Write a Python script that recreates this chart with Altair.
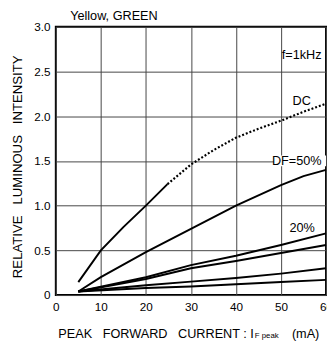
import altair as alt
import pandas as pd

FONT = "Liberation Sans"

# ---- data ----
dc_solid_x = [5, 10, 15, 20, 24.8]
dc_solid_y = [0.145, 0.5, 0.76, 1.0, 1.24]
dc_dot_x = [24.8, 30, 35, 40, 45, 50, 55, 60]
dc_dot_y = [1.24, 1.46, 1.62, 1.76, 1.86, 1.95, 2.05, 2.14]
df50_x = [5, 10, 20, 30, 40, 50, 55, 60]
df50_y = [0.04, 0.2, 0.48, 0.74, 1.0, 1.23, 1.33, 1.40]
low_x = [5, 20, 30, 40, 50, 60]
df20_y = [0.04, 0.2, 0.335, 0.44, 0.56, 0.69]
df10_y = [0.04, 0.18, 0.30, 0.38, 0.47, 0.56]
df5_y = [0.04, 0.11, 0.15, 0.19, 0.24, 0.30]
df1_y = [0.04, 0.08, 0.095, 0.12, 0.145, 0.17]

x_ticks = [0, 10, 20, 30, 40, 50, 60]
y_ticks = [0, 0.5, 1.0, 1.5, 2.0, 2.5, 3.0]

label_text = ["f=1kHz", "DC", "20%"]
label_x = [54.6, 54.6, 54.7]
label_y = [2.68, 2.17, 0.754]

df50_label = ["DF=50%"]
df50_label_x = [53.5]
df50_label_y = [1.5]
df50_box_x = [48.4]
df50_box_x2 = [60]
df50_box_y = [1.44]
df50_box_y2 = [1.56]

# ---- tables ----
rows = []
for name, xs_, ys_ in [
    ("DC", dc_solid_x, dc_solid_y),
    ("DF=50%", df50_x, df50_y),
    ("DF=20%", low_x, df20_y),
    ("DF=10%", low_x, df10_y),
    ("DF=5%", low_x, df5_y),
    ("DF=1%", low_x, df1_y),
]:
    for i, (xv, yv) in enumerate(zip(xs_, ys_)):
        rows.append({"series": name, "x": xv, "y": yv, "o": i})
solid = pd.DataFrame(rows)
dotted = pd.DataFrame({"x": dc_dot_x, "y": dc_dot_y, "o": list(range(len(dc_dot_x)))})
labels = pd.DataFrame({"t": label_text, "x": label_x, "y": label_y})
lab50 = pd.DataFrame({"t": df50_label, "x": df50_label_x, "y": df50_label_y})
box50 = pd.DataFrame({"x": df50_box_x, "x2": df50_box_x2, "y": df50_box_y, "y2": df50_box_y2})

W, H = 277, 275

xs = alt.Scale(domain=[0, 60], nice=False, zero=False)
ys = alt.Scale(domain=[0, 3], nice=False)

x_axis = alt.Axis(values=x_ticks, title=None, ticks=False, domain=False, labelPadding=7,
                  labelFont=FONT, labelFontSize=12, labelColor="black", labelFlush=False,
                  grid=True, gridColor="#444", gridWidth=1, gridOpacity=1)
y_axis = alt.Axis(values=y_ticks, title="RELATIVE\u00a0\u00a0 LUMINOUS\u00a0\u00a0 INTENSITY",
                  ticks=False, domain=False,
                  labelPadding=6, labelFont=FONT, labelFontSize=12, labelColor="black",
                  labelExpr="datum.value == 0 ? '0' : format(datum.value, '.1f')",
                  titleFont=FONT, titleFontSize=13.5, titleFontWeight="normal", titleColor="black",
                  titleAngle=270, titleBaseline="middle", titleAlign="center",
                  titleX=-39, titleY=143,
                  grid=True, gridColor="#444", gridWidth=1, gridOpacity=1)

base_solid = alt.Chart(solid).mark_line(color="black", strokeWidth=2).encode(
    x=alt.X("x:Q", scale=xs, axis=x_axis),
    y=alt.Y("y:Q", scale=ys, axis=y_axis),
    detail="series:N",
    order="o:Q",
)
dots = alt.Chart(dotted).mark_line(color="black", strokeWidth=2.2, strokeDash=[2, 2]).encode(
    x=alt.X("x:Q", scale=xs), y=alt.Y("y:Q", scale=ys), order="o:Q"
)
box = alt.Chart(box50).mark_rect(color="white").encode(
    x=alt.X("x:Q", scale=xs), x2="x2:Q", y=alt.Y("y:Q", scale=ys), y2="y2:Q"
)
txt = alt.Chart(labels).mark_text(font=FONT, fontSize=13, color="black").encode(
    x=alt.X("x:Q", scale=xs), y=alt.Y("y:Q", scale=ys), text="t:N"
)
txt50 = alt.Chart(lab50).mark_text(font=FONT, fontSize=13, color="black").encode(
    x=alt.X("x:Q", scale=xs), y=alt.Y("y:Q", scale=ys), text="t:N"
)

title_t = alt.Chart(pd.DataFrame({"t": ["Yellow, GREEN"]})).mark_text(
    font=FONT, fontSize=13, color="black", align="left", baseline="alphabetic"
).encode(x=alt.value(14.7), y=alt.value(-7), text="t:N")
xt1 = alt.Chart(pd.DataFrame({"t": ["PEAK\u00a0\u00a0 FORWARD\u00a0\u00a0 CURRENT : I"]})).mark_text(
    font=FONT, fontSize=13, color="black", align="right", baseline="alphabetic"
).encode(x=alt.value(203), y=alt.value(H + 44), text="t:N")
xt2 = alt.Chart(pd.DataFrame({"t": ["F peak"]})).mark_text(
    font=FONT, fontSize=8, color="black", align="left", baseline="alphabetic"
).encode(x=alt.value(204), y=alt.value(H + 44), text="t:N")
xt3 = alt.Chart(pd.DataFrame({"t": ["(mA)"]})).mark_text(
    font=FONT, fontSize=13, color="black", align="left", baseline="alphabetic"
).encode(x=alt.value(242), y=alt.value(H + 44), text="t:N")

chart = alt.layer(base_solid, box, dots, txt, txt50, title_t, xt1, xt2, xt3).properties(
    width=W, height=H,
    autosize=alt.AutoSizeParams(type="none"),
    padding={"left": 49, "top": 15, "right": 1, "bottom": 50},
    background="white",
).configure_view(stroke="black", strokeWidth=2)

chart.save("out.html", embed_options={"renderer": "svg", "actions": False})
